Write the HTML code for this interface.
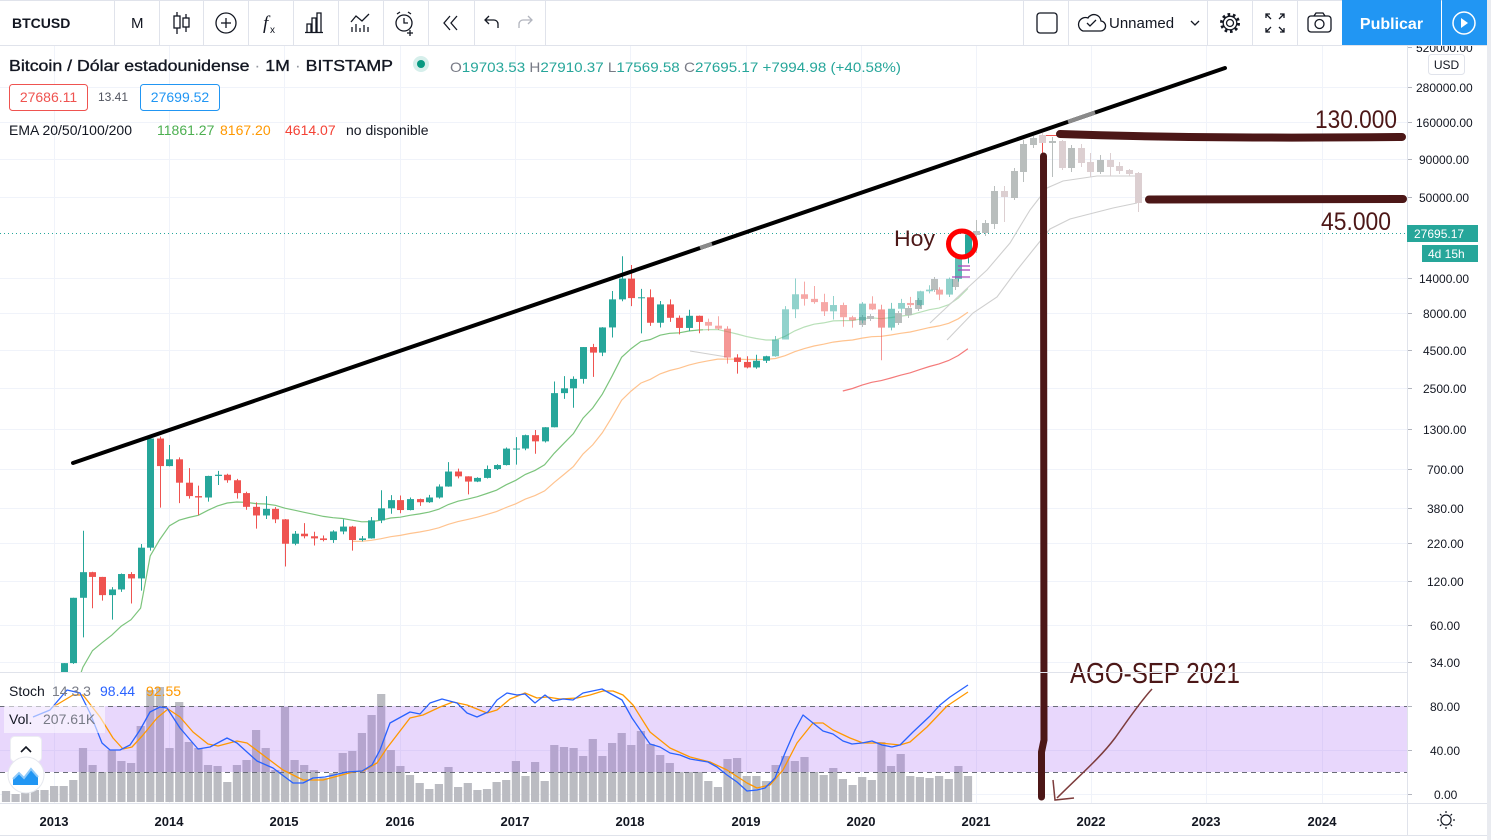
<!DOCTYPE html>
<html><head><meta charset="utf-8">
<style>
html,body{margin:0;padding:0;background:#fff;overflow:hidden;}
svg{display:block;font-family:"Liberation Sans",Arial,sans-serif;}
</style></head><body>
<svg id="c" width="1491" height="840" viewBox="0 0 1491 840" xmlns="http://www.w3.org/2000/svg">
<defs>
<clipPath id="pp"><rect x="0" y="46" width="1407" height="626"/></clipPath>
<clipPath id="sp"><rect x="0" y="673" width="1407" height="130"/></clipPath>
<clipPath id="l703"><rect x="0" y="46" width="703" height="626"/></clipPath>
<clipPath id="r703"><rect x="703" y="46" width="704" height="626"/></clipPath>
</defs>
<rect width="1491" height="840" fill="#fff"/>

<!-- grid -->
<g stroke="#f0f3fa" stroke-width="1">
<line x1="54.5" y1="46" x2="54.5" y2="803"/><line x1="169.5" y1="46" x2="169.5" y2="803"/>
<line x1="284.5" y1="46" x2="284.5" y2="803"/><line x1="400.5" y1="46" x2="400.5" y2="803"/>
<line x1="515.5" y1="46" x2="515.5" y2="803"/><line x1="630.5" y1="46" x2="630.5" y2="803"/>
<line x1="746.5" y1="46" x2="746.5" y2="803"/><line x1="861.5" y1="46" x2="861.5" y2="803"/>
<line x1="976.5" y1="46" x2="976.5" y2="803"/><line x1="1091.5" y1="46" x2="1091.5" y2="803"/>
<line x1="1206.5" y1="46" x2="1206.5" y2="803"/><line x1="1322.5" y1="46" x2="1322.5" y2="803"/>
<line x1="0" y1="87.5" x2="1407" y2="87.5"/><line x1="0" y1="122.5" x2="1407" y2="122.5"/>
<line x1="0" y1="159.5" x2="1407" y2="159.5"/><line x1="0" y1="197.5" x2="1407" y2="197.5"/>
<line x1="0" y1="278.5" x2="1407" y2="278.5"/><line x1="0" y1="313.5" x2="1407" y2="313.5"/>
<line x1="0" y1="350.5" x2="1407" y2="350.5"/><line x1="0" y1="388.5" x2="1407" y2="388.5"/>
<line x1="0" y1="429.5" x2="1407" y2="429.5"/><line x1="0" y1="469.5" x2="1407" y2="469.5"/>
<line x1="0" y1="508.5" x2="1407" y2="508.5"/><line x1="0" y1="543.5" x2="1407" y2="543.5"/>
<line x1="0" y1="581.5" x2="1407" y2="581.5"/><line x1="0" y1="625.5" x2="1407" y2="625.5"/>
<line x1="0" y1="662.5" x2="1407" y2="662.5"/>
<line x1="0" y1="750.5" x2="1407" y2="750.5"/><line x1="0" y1="794.5" x2="1407" y2="794.5"/>
</g>

<!-- stoch pane: volume + band -->
<g clip-path="url(#sp)">
<g id="vol" fill="#bbbcc2"></g>
<rect x="0" y="706" width="1407" height="66" fill="rgba(165,95,245,0.25)"/>
<line x1="0" y1="706.5" x2="1407" y2="706.5" stroke="#6a6d78" stroke-dasharray="5 4" stroke-width="1"/>
<line x1="0" y1="772.5" x2="1407" y2="772.5" stroke="#6a6d78" stroke-dasharray="5 4" stroke-width="1"/>
</g>
<g clip-path="url(#sp)" fill="none" stroke-width="1.3" stroke-linejoin="round">
<polyline stroke="#ff9800" points="53,707 73,695 83,695 100,717 113,738 123,749 132,747 143,735 157,718 168,709 180,717 193,732 208,744 218,746 237,741 247,743 267,758 283,770 303,780 323,780 353,772 363,771 377,763 387,748 410,718 423,715 440,707 453,702 467,705 487,713 497,710 510,699 525,693 537,698 547,697 560,699 577,698 590,695 603,691 613,691 623,695 633,705 650,732 670,748 690,757 710,762 727,770 747,783 757,788 770,785 783,770 797,743 813,723 823,723 833,730 850,738 863,743 880,743 900,745 910,742 927,727 947,706 968,692"/>
<polyline stroke="#2962ff" points="33,717 50,710 67,690 80,693 90,713 102,743 110,750 120,750 130,745 140,730 150,712 160,707 167,708 180,728 198,749 210,747 227,738 237,743 257,761 273,768 293,783 303,783 313,778 325,777 347,772 362,771 372,765 380,750 390,723 410,712 420,714 430,703 442,699 457,703 467,713 477,717 488,712 497,700 507,693 517,695 525,694 535,703 545,695 553,701 563,699 573,700 583,693 602,689 613,695 622,700 632,718 650,744 660,747 670,753 680,755 690,759 708,762 717,767 727,775 737,782 747,791 757,790 765,788 775,778 785,753 795,730 803,715 813,723 823,731 833,734 843,741 852,744 862,743 872,741 882,745 892,747 900,745 913,732 930,716 940,705 950,697 968,685"/>
</g>

<!-- price pane -->
<g clip-path="url(#pp)">
<line x1="0" y1="233.5" x2="1407" y2="233.5" stroke="#26a69a" stroke-dasharray="1 3" stroke-width="1"/>
<g id="ema" fill="none" stroke-width="1.2"></g>
<g fill="none" stroke="#cfcfcf" stroke-width="1.1">
<polyline points="930,323 963,292 987,270 1010,243 1030,210 1047,188 1063,181 1097,176 1137,176"/>
<polyline points="947,340 973,313 997,297 1017,270 1033,250 1050,229 1070,219 1113,208 1137,203"/>
<polyline points="690,351 727,357"/>
</g>
<g id="ghost"></g>
<g id="candles"></g>
<g stroke="#ab47bc" stroke-width="1.6" opacity="0.8">
<line x1="958" y1="266" x2="970" y2="266"/><line x1="958" y1="270" x2="970" y2="270"/><line x1="952" y1="277" x2="970" y2="277"/>
</g>
<line x1="73" y1="463" x2="1225" y2="68" stroke="#000" stroke-width="4" stroke-linecap="round"/>
<line x1="1068" y1="121.8" x2="1095" y2="112.5" stroke="#8a8a8a" stroke-width="4"/>
<line x1="700" y1="248" x2="712" y2="243.9" stroke="#8a8a8a" stroke-width="4"/>
<line x1="1046" y1="135.5" x2="1060" y2="135.5" stroke="#ef5350" stroke-width="1"/>
<path d="M1060,134 Q1200,139 1402,137" stroke="#4c1717" stroke-width="8" fill="none" stroke-linecap="round"/>
<path d="M1149,199.5 L1403,199" stroke="#4c1717" stroke-width="8" fill="none" stroke-linecap="round"/>
<text x="1315" y="128" font-size="25" fill="#4c1717" textLength="82" lengthAdjust="spacingAndGlyphs">130.000</text>
<text x="1321" y="230" font-size="25" fill="#4c1717" textLength="70" lengthAdjust="spacingAndGlyphs">45.000</text>
<text x="894" y="246" font-size="22" fill="#4c1717" textLength="41" lengthAdjust="spacingAndGlyphs">Hoy</text>
<ellipse cx="962" cy="244" rx="13.5" ry="13" fill="none" stroke="#ff0000" stroke-width="5"/>
</g>
<path d="M1043.5,156 L1044,740 L1041.5,752 L1041.5,797" stroke="#4c1717" stroke-width="7" fill="none" stroke-linecap="round"/>
<path d="M1152,689 C1140,702 1128,720 1115,738 C1100,758 1080,775 1057,798" stroke="#7d3c3c" stroke-width="1.5" fill="none"/>
<path d="M1053,780 L1055,800 L1074,798" stroke="#7d3c3c" stroke-width="1.5" fill="none"/>
<text x="1070" y="683" font-size="29" fill="#4c1717" textLength="170" lengthAdjust="spacingAndGlyphs">AGO-SEP 2021</text>

<line x1="0" y1="672.5" x2="1487" y2="672.5" stroke="#e0e3eb" stroke-width="1"/>

<!-- legends -->
<text x="9" y="71" font-size="16" fill="#131722" stroke="#131722" stroke-width="0.35" textLength="384" lengthAdjust="spacingAndGlyphs">Bitcoin / Dólar estadounidense<tspan fill="#9598a1" stroke="none"> · </tspan>1M<tspan fill="#9598a1" stroke="none"> · </tspan>BITSTAMP</text>
<circle cx="421" cy="64" r="8" fill="#d6efeb"/>
<circle cx="421" cy="64" r="4" fill="#089981"/>
<text x="450" y="72" font-size="14" fill="#26a69a" textLength="451" lengthAdjust="spacingAndGlyphs"><tspan fill="#787b86">O</tspan>19703.53 <tspan fill="#787b86">H</tspan>27910.37 <tspan fill="#787b86">L</tspan>17569.58 <tspan fill="#787b86">C</tspan>27695.17 +7994.98 (+40.58%)</text>
<rect x="9.5" y="84.5" width="78" height="26" rx="3" fill="#fff" stroke="#ef5350"/>
<text x="48.5" y="102" font-size="14" fill="#ef5350" text-anchor="middle">27686.11</text>
<text x="98" y="101" font-size="12" fill="#50535e">13.41</text>
<rect x="140.5" y="84.5" width="79" height="26" rx="3" fill="#fff" stroke="#2196f3"/>
<text x="180" y="102" font-size="14" fill="#2196f3" text-anchor="middle">27699.52</text>
<text x="9" y="135" font-size="14" fill="#131722">EMA 20/50/100/200</text>
<text x="157" y="135" font-size="14" fill="#4caf50">11861.27</text>
<text x="220" y="135" font-size="14" fill="#ff9800">8167.20</text>
<text x="285" y="135" font-size="14" fill="#f44336">4614.07</text>
<text x="346" y="135" font-size="14" fill="#131722">no disponible</text>

<text x="9" y="696" font-size="14" fill="#131722">Stoch</text>
<text x="52" y="696" font-size="14" fill="#787b86">14 3 3</text>
<text x="100" y="696" font-size="14" fill="#2962ff">98.44</text>
<text x="146" y="696" font-size="14" fill="#ff9800">92.55</text>
<rect x="4" y="705" width="101" height="28" fill="rgba(255,255,255,0.55)"/>
<text x="9" y="724" font-size="14" fill="#131722">Vol.</text>
<text x="43" y="724" font-size="14" fill="#787b86">207.61K</text>
<rect x="10.5" y="736.5" width="31" height="25" rx="4" fill="#fff" stroke="#eceef2"/>
<path d="M21,752 L26,747 L31,752" stroke="#131722" stroke-width="1.6" fill="none"/>
<circle cx="26" cy="775" r="18" fill="#fff" stroke="#e6e8ee"/>
<path d="M13,785 L13,779 L19,773 L24,778 L31,769 L38,777 L38,785 Z" fill="#2196f3"/>
<path d="M13,779 L19,773 L24,778 L31,769 L38,777" stroke="#90caf9" stroke-width="2" fill="none"/>

<!-- price axis -->
<rect x="1408" y="46" width="79" height="758" fill="#fff"/>
<line x1="1407.5" y1="46" x2="1407.5" y2="835" stroke="#e0e3eb"/>
<g stroke="#b2b5be" stroke-width="1">
<line x1="1408" y1="47.5" x2="1412" y2="47.5"/><line x1="1408" y1="87.5" x2="1412" y2="87.5"/><line x1="1408" y1="122.5" x2="1412" y2="122.5"/>
<line x1="1408" y1="159.5" x2="1412" y2="159.5"/><line x1="1408" y1="197.5" x2="1412" y2="197.5"/><line x1="1408" y1="278.5" x2="1412" y2="278.5"/>
<line x1="1408" y1="313.5" x2="1412" y2="313.5"/><line x1="1408" y1="350.5" x2="1412" y2="350.5"/><line x1="1408" y1="388.5" x2="1412" y2="388.5"/>
<line x1="1408" y1="429.5" x2="1412" y2="429.5"/><line x1="1408" y1="469.5" x2="1412" y2="469.5"/><line x1="1408" y1="508.5" x2="1412" y2="508.5"/>
<line x1="1408" y1="543.5" x2="1412" y2="543.5"/><line x1="1408" y1="581.5" x2="1412" y2="581.5"/><line x1="1408" y1="625.5" x2="1412" y2="625.5"/>
<line x1="1408" y1="662.5" x2="1412" y2="662.5"/><line x1="1408" y1="706.5" x2="1412" y2="706.5"/><line x1="1408" y1="750.5" x2="1412" y2="750.5"/>
<line x1="1408" y1="794.5" x2="1412" y2="794.5"/>
</g>
<g font-size="12" fill="#131722">
<text x="1416" y="52">520000.00</text>
<text x="1416" y="92">280000.00</text>
<text x="1416" y="127">160000.00</text>
<text x="1419" y="164">90000.00</text>
<text x="1419" y="202">50000.00</text>
<text x="1419" y="283">14000.00</text>
<text x="1423" y="318">8000.00</text>
<text x="1423" y="355">4500.00</text>
<text x="1423" y="393">2500.00</text>
<text x="1423" y="434">1300.00</text>
<text x="1427" y="474">700.00</text>
<text x="1427" y="513">380.00</text>
<text x="1427" y="548">220.00</text>
<text x="1427" y="586">120.00</text>
<text x="1430" y="630">60.00</text>
<text x="1430" y="667">34.00</text>
<text x="1430" y="711">80.00</text>
<text x="1430" y="755">40.00</text>
<text x="1434" y="799">0.00</text>
</g>
<rect x="1428.5" y="54.5" width="36" height="20" rx="3" fill="#fff" stroke="#e0e3eb"/>
<text x="1446.5" y="69" font-size="12" fill="#131722" text-anchor="middle">USD</text>
<rect x="1407" y="225" width="71" height="17" fill="#26a69a"/>
<text x="1414" y="238" font-size="12" fill="#fff">27695.17</text>
<rect x="1422" y="245" width="56" height="17" fill="#26a69a"/>
<text x="1428" y="258" font-size="12" fill="#fff">4d 15h</text>

<!-- time axis -->
<line x1="0" y1="803.5" x2="1487" y2="803.5" stroke="#e0e3eb"/>
<line x1="0" y1="835.5" x2="1487" y2="835.5" stroke="#e0e3eb"/>
<g font-size="13" font-weight="bold" fill="#131722" text-anchor="middle">
<text x="54" y="826">2013</text><text x="169" y="826">2014</text><text x="284" y="826">2015</text>
<text x="400" y="826">2016</text><text x="515" y="826">2017</text><text x="630" y="826">2018</text>
<text x="746" y="826">2019</text><text x="861" y="826">2020</text><text x="976" y="826">2021</text>
<text x="1091" y="826">2022</text><text x="1206" y="826">2023</text><text x="1322" y="826">2024</text>
</g>
<g stroke="#131722" stroke-width="1.2" fill="none">
<circle cx="1446" cy="820" r="5"/>
<line x1="1446" y1="811" x2="1446" y2="813"/><line x1="1446" y1="827" x2="1446" y2="829"/>
<line x1="1437" y1="820" x2="1439" y2="820"/><line x1="1453" y1="820" x2="1455" y2="820"/>
<line x1="1440" y1="814" x2="1441.5" y2="815.5"/><line x1="1450.5" y1="824.5" x2="1452" y2="826"/>
<line x1="1452" y1="814" x2="1450.5" y2="815.5"/><line x1="1441.5" y1="824.5" x2="1440" y2="826"/>
</g>
<rect x="1487" y="0" width="4" height="840" fill="#e9ebf0"/>

<!-- toolbar -->
<rect x="0" y="0" width="1487" height="45" fill="#fff"/>
<line x1="0" y1="0.5" x2="1487" y2="0.5" stroke="#e0e3eb"/>
<line x1="0" y1="45.5" x2="1487" y2="45.5" stroke="#e0e3eb"/>
<g stroke="#e0e3eb">
<line x1="114.5" y1="1" x2="114.5" y2="45"/><line x1="159.5" y1="1" x2="159.5" y2="45"/>
<line x1="203.5" y1="1" x2="203.5" y2="45"/><line x1="248.5" y1="1" x2="248.5" y2="45"/>
<line x1="293.5" y1="1" x2="293.5" y2="45"/><line x1="338.5" y1="1" x2="338.5" y2="45"/>
<line x1="383.5" y1="1" x2="383.5" y2="45"/><line x1="428.5" y1="1" x2="428.5" y2="45"/>
<line x1="474.5" y1="1" x2="474.5" y2="45"/><line x1="545.5" y1="1" x2="545.5" y2="45"/>
<line x1="1023.5" y1="1" x2="1023.5" y2="45"/><line x1="1068.5" y1="1" x2="1068.5" y2="45"/>
<line x1="1207.5" y1="1" x2="1207.5" y2="45"/><line x1="1252.5" y1="1" x2="1252.5" y2="45"/>
<line x1="1297.5" y1="1" x2="1297.5" y2="45"/>
</g>
<text x="12" y="28" font-size="14" font-weight="bold" fill="#131722">BTCUSD</text>
<text x="131" y="28" font-size="15" fill="#131722">M</text>
<g stroke="#131722" stroke-width="1.3" fill="none">
<line x1="177" y1="12" x2="177" y2="34"/><rect x="174" y="16" width="6" height="12" fill="#fff"/>
<line x1="186" y1="14" x2="186" y2="32"/><rect x="183" y="18" width="6" height="9" fill="#fff"/>
<circle cx="226" cy="23" r="10"/><line x1="221" y1="23" x2="231" y2="23"/><line x1="226" y1="18" x2="226" y2="28"/>
<path d="M307,32 V24 H311 V32 M312,32 V18 H316 V32 M317,32 V13 H321 V32 M305,32.5 H323"/>
<path d="M351,22 L356,16 L362,21 L369,14"/>
<path d="M352,32 V27 M356,32 V24 M360,32 V28 M364,32 V25 M368,32 V27"/>
<circle cx="404" cy="23" r="8"/><path d="M404,18 V23 H408 M397,14 L400,12 M411,14 L408,12 M410,30 V36 M407,33 H413"/>
<path d="M450,16 L444,23 L450,30 M457,16 L451,23 L457,30"/>
<path d="M498,28 V24 A4,4 0 0 0 494,20 H486 M489,16 L485,20 L489,24"/>
</g>
<path d="M519,28 V24 A4,4 0 0 1 523,20 H531 M528,16 L532,20 L528,24" stroke="#b2b5be" stroke-width="1.3" fill="none"/>
<text x="263" y="29" font-size="19" font-style="italic" font-family="Liberation Serif, serif" fill="#131722">f</text>
<text x="270" y="33" font-size="10" fill="#131722">x</text>
<g stroke="#131722" stroke-width="1.3" fill="none">
<rect x="1037" y="13" width="20" height="20" rx="3"/>
<path d="M1083,31 H1100 A5,5 0 0 0 1101,21 A7,7 0 0 0 1088,18 A6,6 0 0 0 1083,31 Z"/>
<path d="M1087,23 L1090,26 L1096,20"/>
<path d="M1191,21 L1195,25 L1199,21"/>
<circle cx="1230" cy="23" r="3.5"/>
<circle cx="1230" cy="23" r="8.5" stroke-width="3" stroke-dasharray="2.6 2.74"/>
<circle cx="1230" cy="23" r="6.8"/>
<path d="M1266,18 V14 H1270 M1266,14 L1271,19 M1284,18 V14 H1280 M1284,14 L1279,19 M1266,28 V32 H1270 M1266,32 L1271,27 M1284,28 V32 H1280 M1284,32 L1279,27"/>
<rect x="1308" y="16" width="23" height="16" rx="3"/><path d="M1314,16 L1316,13 H1323 L1325,16"/><circle cx="1319.5" cy="24" r="4.5"/>
</g>
<text x="1109" y="28" font-size="15" fill="#131722">Unnamed</text>
<rect x="1342" y="0" width="99" height="45" fill="#2196f3"/>
<text x="1391.5" y="29" font-size="16" font-weight="bold" fill="#fff" text-anchor="middle">Publicar</text>
<rect x="1442" y="0" width="45" height="45" fill="#2196f3"/>
<circle cx="1464" cy="23" r="11" stroke="#fff" stroke-width="1.5" fill="none"/>
<path d="M1461,18 L1468,23 L1461,28 Z" fill="#fff"/>
</svg>
<script>
(function(){
var NS="http://www.w3.org/2000/svg";
function el(t,a,p){var e=document.createElementNS(NS,t);for(var k in a)e.setAttribute(k,a[k]);p.appendChild(e);return e;}
function Y(p){return 662-63.8*Math.log(p/34);}
function X(i){return 54+i*9.62;}
var D=[
[13.5,20.4,12.9,20.4],[20.4,33.4,19.1,33.4],[33.4,93,33,93],[93,266,50,139],[139,140,79,129],[129,129,89,97],[97,110,66,106],[106,136,102,135],[135,139,85,126],[126,216,104,204],[204,1163,195,1129],[1129,1163,382,733],
[733,1020,730,815],[815,840,410,565],[565,710,440,458],[458,540,340,448],[448,630,420,628],[628,680,545,640],[640,650,565,587],[587,600,440,480],[480,490,370,387],[387,415,275,338],[338,458,320,375],[375,385,300,318],
[318,320,152,217],[217,265,212,254],[254,300,236,244],[244,262,211,236],[236,247,225,230],[230,268,220,263],[263,318,252,284],[284,287,195,230],[230,245,225,236],[236,330,235,313],[313,502,300,378],[378,465,347,430],
[430,462,350,368],[368,448,366,437],[437,440,393,416],[416,467,412,448],[448,550,440,532],[532,780,530,673],[673,705,605,624],[624,625,470,575],[575,615,570,609],[609,740,603,700],[700,755,690,745],[745,980,740,964],
[964,1153,750,965],[965,1200,940,1190],[1190,1290,890,1080],[1080,1350,1060,1347],[1347,2760,1345,2300],[2300,3000,2100,2480],[2480,2990,1830,2875],[2875,4740,2670,4735],[4735,4980,2970,4340],[4340,6470,4110,6440],[6440,11400,5500,10000],[10000,19666,9700,13850],
[13850,17150,9000,10200],[10200,11790,5870,10330],[10330,11700,6600,6930],[6930,9750,6430,9240],[9240,9990,7030,7490],[7490,7760,5780,6390],[6390,8490,6080,7730],[7730,7760,5880,7020],[7020,7400,6100,6620],[6620,7680,6190,6315],[6315,6560,3650,4020],[4020,4230,3120,3750],
[3750,4100,3390,3440],[3440,4200,3370,3820],[3820,4130,3690,4100],[4100,5630,4070,5330],[5330,9000,5330,8560],[8560,13880,7450,10830],[10830,13200,9070,10080],[10080,12330,9330,9580],[9580,10930,7710,8290],[8290,10540,7300,9150],[9150,9510,6510,7560],[7560,7740,6420,7190],
[7190,9580,6860,9350],[9350,10500,8450,8540],[8540,9190,3850,6420],[6420,9470,6150,8630],[8630,10080,8120,9450],[9450,10400,8820,9140],[9140,11440,8960,11350],[11350,12480,10980,11650],[11650,12090,9880,10780],[10780,14100,10380,13800],[13800,19890,13200,19700],[19703.53,27910.37,17569.58,27695.17]
];
function ema(si,sv,n){var a=2/(n+1);var e=sv;var pts=[X(si).toFixed(1)+','+Y(e).toFixed(1)];for(var i=si+1;i<D.length;i++){e=e+a*(D[i][3]-e);pts.push(X(i).toFixed(1)+','+Y(e).toFixed(1));}return pts.join(' ');}
var eg=document.getElementById('ema');
var e20=ema(-1,9,20),e50=ema(31,225,50),e100=ema(82,2377,100);
el('polyline',{points:e20,stroke:'#7cc47c','clip-path':'url(#l703)'},eg);
el('polyline',{points:e20,stroke:'#b8e0b8','clip-path':'url(#r703)'},eg);
el('polyline',{points:e50,stroke:'#ffc38f'},eg);
el('polyline',{points:e100,stroke:'#f47a7a'},eg);
var cg=document.getElementById('candles');
var op={68:.5,69:.5,70:.6,75:.6,76:.5,77:.5,78:.5,79:.5,80:.5,81:.5,82:.5,83:.5,84:.55,85:.5,86:.6,87:.6,88:.5,89:.5,90:.5,91:.5,92:.5,93:.5,94:.75};
D.forEach(function(d,i){var o=d[0],h=d[1],l=d[2],c=d[3];var up=c>=o;var col=up?'#26a69a':'#ef5350';var x=Math.round(X(i))+0.5;
 var g=el('g',{opacity:(op[i]||1)},cg);
 el('line',{x1:x,x2:x,y1:Y(h),y2:Y(l),stroke:col,'stroke-width':1},g);
 var t=Math.min(Y(o),Y(c)),b=Math.max(Y(o),Y(c));
 el('rect',{x:x-3.5,y:t,width:7,height:Math.max(1,b-t),fill:col},g);
});
var G=[[862,317,325,315,327,1],[870,316,319,314,321,1],[898,313,323,311,325,1],[908,308,315,306,318,1],[918,300,309,298,311,1],[934,279,290,277,292,1],[955,279,287,276,290,1],
[976,231,235,220,253,1],[985,223,233,220,236,1],[994,191,224,186,229,1],[1004,191,197,186,222,0],[1014,171,198,168,200,1],[1023,144,172,140,182,1],[1033,138,145,136,148,1],[1042,135,143,133,143,0],[1052,141,143,137,177,1],[1062,141,168,140,170,0],[1071,148,168,145,172,1],[1081,148,163,144,167,0],[1090,162,172,153,177,0],[1100,160,172,155,174,1],[1110,160,167,153,176,0],[1119,166,171,162,174,0],[1129,170,174,169,176,0],[1138,173,203,172,212,0]];
var gg=document.getElementById('ghost');
G.forEach(function(g){var col=g[5]?'#b9bebd':'#dccfd1';var x=g[0]+0.5;
 el('line',{x1:x,x2:x,y1:g[3],y2:g[4],stroke:col,'stroke-width':1},gg);
 el('rect',{x:x-3.5,y:g[1],width:7,height:Math.max(1,g[2]-g[1]),fill:col},gg);});
el('line',{x1:1042.5,x2:1042.5,y1:143,y2:156,stroke:'#ef5350','stroke-width':1},gg);
var V=[791,794,793,790,790,786,786,780,748,765,772,750,761,763,726,690,687,748,702,742,748,765,766,782,765,760,730,748,770,707,760,765,770,778,773,753,751,733,715,694,750,766,775,783,789,784,767,787,783,790,789,782,780,761,776,762,781,745,747,748,756,739,756,743,733,745,731,744,755,763,772,772,772,781,787,759,758,776,776,781,765,756,761,757,772,775,768,779,785,777,780,742,766,754,776,777,778,776,779,766,776];
var vg=document.getElementById('vol');
V.forEach(function(t,k){var i=k-5;var x=X(i);el('rect',{x:(x-4).toFixed(1),y:t,width:8.2,height:802-t},vg);});
})();
</script>
</body></html>
